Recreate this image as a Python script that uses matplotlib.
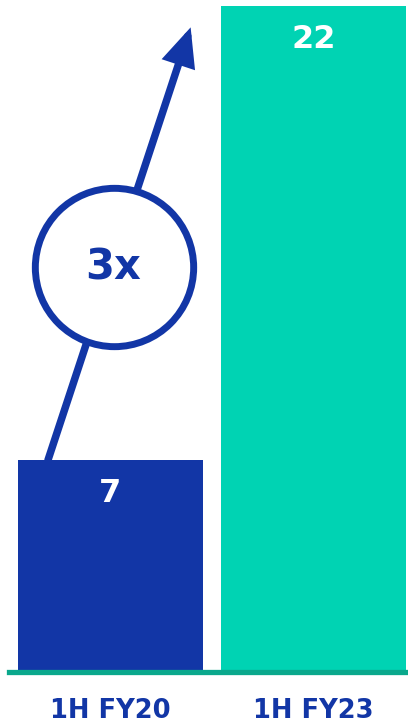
import matplotlib.pyplot as plt

# 数据
categories = ['1H FY20', '1H FY23']
values = [7, 22]
bar_colors = ['#1236a6', '#00d3b3']
growth_label = '3x'

blue = '#1236a6'
line_teal = '#0aa88c'

fig = plt.figure(figsize=(4.08, 7.24), dpi=100)
# 轴区域按像素放置: 左 9px, 底部 672px
ax = fig.add_axes([9 / 408, 1 - 672 / 724, 1 - 9 / 408, 672 / 724])

x = range(len(categories))
ax.bar(x, values, width=0.911, color=bar_colors, zorder=2)
ax.set_xlim(-0.5, 1.466)
ax.set_ylim(0, 22.2)

# 数值标签
for i, v in enumerate(values):
    ax.annotate(str(v), (i, v), xytext=(0, -24), textcoords='offset points',
                ha='center', va='center', color='white', fontsize=23,
                fontweight='bold', zorder=5)

# 增长箭头: 从第一根柱顶指向第二根柱顶附近
start = (-0.308, values[0])
tip = (0.395, values[1] * 0.968)
ax.annotate('', xy=tip, xytext=start,
            arrowprops=dict(arrowstyle='-|>,head_length=1.9,head_width=0.85',
                            lw=5.4, color=blue, shrinkA=0, shrinkB=0,
                            mutation_scale=10, joinstyle='miter'),
            zorder=3)

# 圆圈 + 倍数
cx = start[0] + (tip[0] - start[0]) * 0.46
cy = start[1] + (tip[1] - start[1]) * 0.446
ax.plot([cx], [cy], marker='o', markersize=114, markerfacecolor='white',
        markeredgecolor=blue, markeredgewidth=5, zorder=4)
ax.text(cx, cy, growth_label, ha='center', va='center', color=blue,
        fontsize=30, fontweight='bold', zorder=5)

# 坐标轴样式
for s in ['left', 'right', 'top']:
    ax.spines[s].set_visible(False)
ax.spines['bottom'].set_color(line_teal)
ax.spines['bottom'].set_linewidth(3.8)
ax.spines['bottom'].set_zorder(3)
ax.set_yticks([])
ax.set_xticks(list(x))
ax.set_xticklabels(categories, fontsize=18.5, fontweight='bold', color=blue)
ax.tick_params(axis='x', length=0, pad=19)

fig.savefig('out.png', dpi=100)
